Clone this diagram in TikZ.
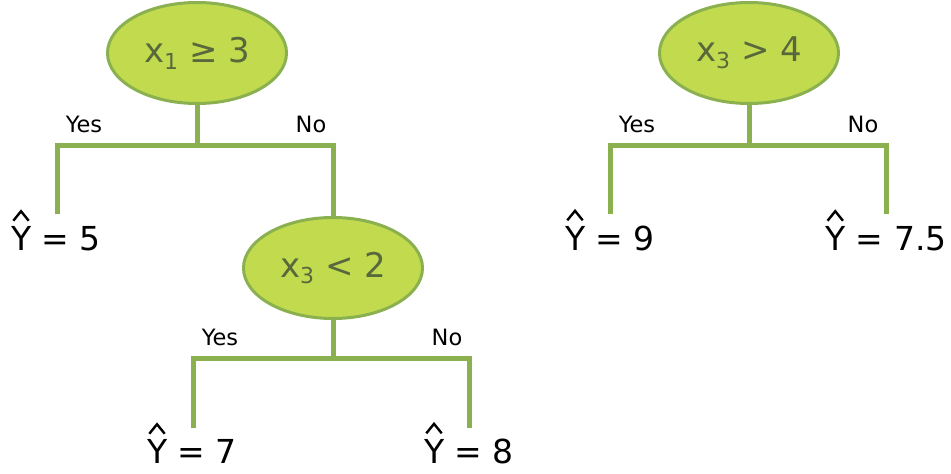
\documentclass[tikz,border=0pt]{standalone}
\usepackage{fontspec}
\setmainfont{DejaVu Sans}
\usetikzlibrary{shapes.geometric,calc}
\definecolor{nodefill}{RGB}{194,219,78}
\definecolor{linegreen}{RGB}{138,176,80}
\definecolor{nodetext}{RGB}{88,104,60}
\newcommand\mysub[1]{\raisebox{-0.2em}{\fontsize{22}{24}\selectfont #1}}
% hat over the leading Y of a leaf node (font 33pt: Y half-width ~10pt)
\newcommand\hatover[1]{\draw[hatline] ($(#1.north west)+(2.4,-5)$) -- ($(#1.north west)+(10.1,-14.5)$) -- ($(#1.north west)+(17.8,-5)$);}
\tikzset{
  decision/.style={ellipse, draw=linegreen, line width=3pt, fill=nodefill,
    minimum width=179pt, minimum height=101pt, inner sep=0pt,
    font=\fontsize{34}{36}\selectfont, text=nodetext},
  branch/.style={draw=linegreen, line width=5pt},
  leaf/.style={font=\fontsize{33}{35}\selectfont, text=black, inner sep=0pt, anchor=base},
  hatline/.style={draw=black, line width=2.4pt, line join=miter},
  ans/.style={font=\fontsize{22.5}{24}\selectfont, text=black, inner sep=0pt, anchor=base}
}
\begin{document}
\begin{tikzpicture}[x=1pt,y=-1pt]
\useasboundingbox (0,0) rectangle (951,474);
% tree 1
\node[decision] (r1) at (197,53) {x\mysub{1} ≥ 3};
\coordinate (j1) at (197,145.5);
\coordinate (l1) at (57.5,145.5);
\coordinate (r1c) at (333,145.5);
\coordinate (l1e) at (57.5,214);
\node[decision] (n2) at (333,268) {x\mysub{3} < 2};
\draw[branch] (r1.south) -- (j1);
\draw[branch] (l1e) -- (l1) -- (r1c) -- (n2.north);
\node[ans] (y1) at (84,132) {Yes};
\node[ans] (no1) at (311,132) {No};
\node[leaf] (p5) at (56,250) {Y = 5};
\hatover{p5}
% subtree
\coordinate (j2) at (333,358.5);
\coordinate (l2) at (193,358.5);
\coordinate (r2) at (469,358.5);
\coordinate (l2e) at (193,428);
\coordinate (r2e) at (469,428);
\draw[branch] (n2.south) -- (j2);
\draw[branch] (l2e) -- (l2) -- (r2) -- (r2e);
\node[ans] (y2) at (220,345) {Yes};
\node[ans] (no2) at (447,345) {No};
\node[leaf] (p7) at (192,463) {Y = 7};
\hatover{p7}
\node[leaf] (p8) at (469,463) {Y = 8};
\hatover{p8}
% tree 3
\node[decision] (r3) at (749,53) {x\mysub{3} > 4};
\coordinate (j3) at (749,145.5);
\coordinate (l3) at (610,145.5);
\coordinate (r3c) at (886,145.5);
\coordinate (l3e) at (610,214);
\coordinate (r3e) at (886,214);
\draw[branch] (r3.south) -- (j3);
\draw[branch] (l3e) -- (l3) -- (r3c) -- (r3e);
\node[ans] (y3) at (637,132) {Yes};
\node[ans] (no3) at (863,132) {No};
\node[leaf] (p9) at (610,250) {Y = 9};
\hatover{p9}
\node[leaf] (p75) at (886,250) {Y = 7.5};
\hatover{p75}
\end{tikzpicture}
\end{document}
